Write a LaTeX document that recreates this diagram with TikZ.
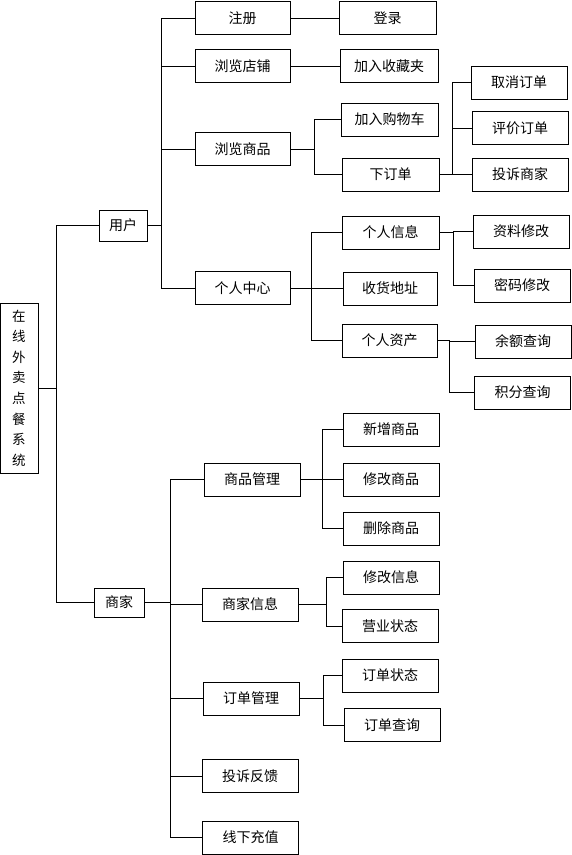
\documentclass[tikz,border=0pt]{standalone}
\usepackage{fontspec}
\newfontfamily\cjk{Noto Sans CJK SC}

\begin{document}
\begin{tikzpicture}[x=1pt, y=-1pt, line width=0.9pt,
    box/.style={draw, inner sep=0pt, minimum width=96pt, minimum height=33pt,
      font=\cjk\fontsize{14}{16}\selectfont}]

          \useasboundingbox (0,0) rectangle (572,855);

          % root
          \node[box, minimum width=38pt, minimum height=170pt, align=center,
            font=\cjk\fontsize{13.5}{20.6}\selectfont] (root) at (19,388)
            {在\\线\\外\\卖\\点\\餐\\系\\统};

          % user side
          \node[box, minimum width=48pt, minimum height=31pt] (user) at (123,225.5) {用户};

          \node[box, minimum width=95pt] (reg) at (242.5,18) {注册};
          \node[box, minimum width=95pt] (shopb) at (242.5,66) {浏览店铺};
          \node[box, minimum width=95pt] (goodsb) at (242.5,149) {浏览商品};
          \node[box, minimum width=95pt] (ucenter) at (242.5,288) {个人中心};

          \node[box, minimum width=97pt] (login) at (387.5,18) {登录};
          \node[box, minimum width=98pt] (fav) at (389,66) {加入收藏夹};
          \node[box, minimum width=97pt] (cart) at (389.5,119.5) {加入购物车};
          \node[box, minimum width=97pt] (order) at (390.5,174.5) {下订单};

          \node[box] (cancel) at (519,82.5) {取消订单};
          \node[box] (rate) at (520,128) {评价订单};
          \node[box] (complain) at (520,174.5) {投诉商家};

          \node[box, minimum width=97pt] (info) at (390.5,232.5) {个人信息};
          \node[box, minimum width=94pt] (addr) at (390,288.5) {收货地址};
          \node[box, minimum width=95pt] (asset) at (389.5,340.5) {个人资产};

          \node[box] (edit) at (521,231.5) {资料修改};
          \node[box] (pwd) at (522,285.5) {密码修改};
          \node[box] (bal) at (523,341.5) {余额查询};
          \node[box] (pts) at (522.5,392.5) {积分查询};

          % merchant side
          \node[box, minimum width=50pt, minimum height=29pt] (shop) at (119,602.5) {商家};

          \node[box] (gm) at (252,479.5) {商品管理};
          \node[box] (si) at (250,604.5) {商家信息};
          \node[box] (om) at (251,698.5) {订单管理};
          \node[box] (fb) at (250,776) {投诉反馈};
          \node[box] (rc) at (250.5,837.5) {线下充值};

          \node[box] (add) at (391,429.5) {新增商品};
          \node[box] (mod) at (391,479.5) {修改商品};
          \node[box] (del) at (391,528.5) {删除商品};
          \node[box] (modi) at (391,577.5) {修改信息};
          \node[box] (stat) at (390,626) {营业状态};
          \node[box] (ost) at (390,675.5) {订单状态};
          \node[box] (oq) at (392,725) {订单查询};

          % connectors
          \foreach \c in {user,shop}{
            \draw (root.east) -- ++(18,0) |- (\c.west);
          }
          \foreach \c in {reg,shopb,goodsb,ucenter}{
            \draw (user.east) -- ++(14,0) |- (\c.west);
          }
          \draw (reg) -- (login);
          \draw (shopb) -- (fav);
          \foreach \c in {cart,order}{
            \draw (goodsb.east) -- ++(24,0) |- (\c.west);
          }
          \foreach \c in {cancel,rate,complain}{
            \draw (order.east) -- ++(13,0) |- (\c.west);
          }
          \foreach \c in {info,addr,asset}{
            \draw (ucenter.east) -- ++(21,0) |- (\c.west);
          }
          \foreach \c in {edit,pwd}{
            \draw (info.east) -- ++(14,0) |- (\c.west);
          }
          \foreach \c in {bal,pts}{
            \draw (asset.east) -- ++(12,0) |- (\c.west);
          }

          \foreach \c in {gm,si,om,fb,rc}{
            \draw (shop.east) -- ++(26,0) |- (\c.west);
          }
          \foreach \c in {add,mod,del}{
            \draw (gm.east) -- ++(22,0) |- (\c.west);
          }
          \foreach \c in {modi,stat}{
            \draw (si.east) -- ++(28,0) |- (\c.west);
          }
          \foreach \c in {ost,oq}{
            \draw (om.east) -- ++(24,0) |- (\c.west);
          }
        \end{tikzpicture}
\end{document}
